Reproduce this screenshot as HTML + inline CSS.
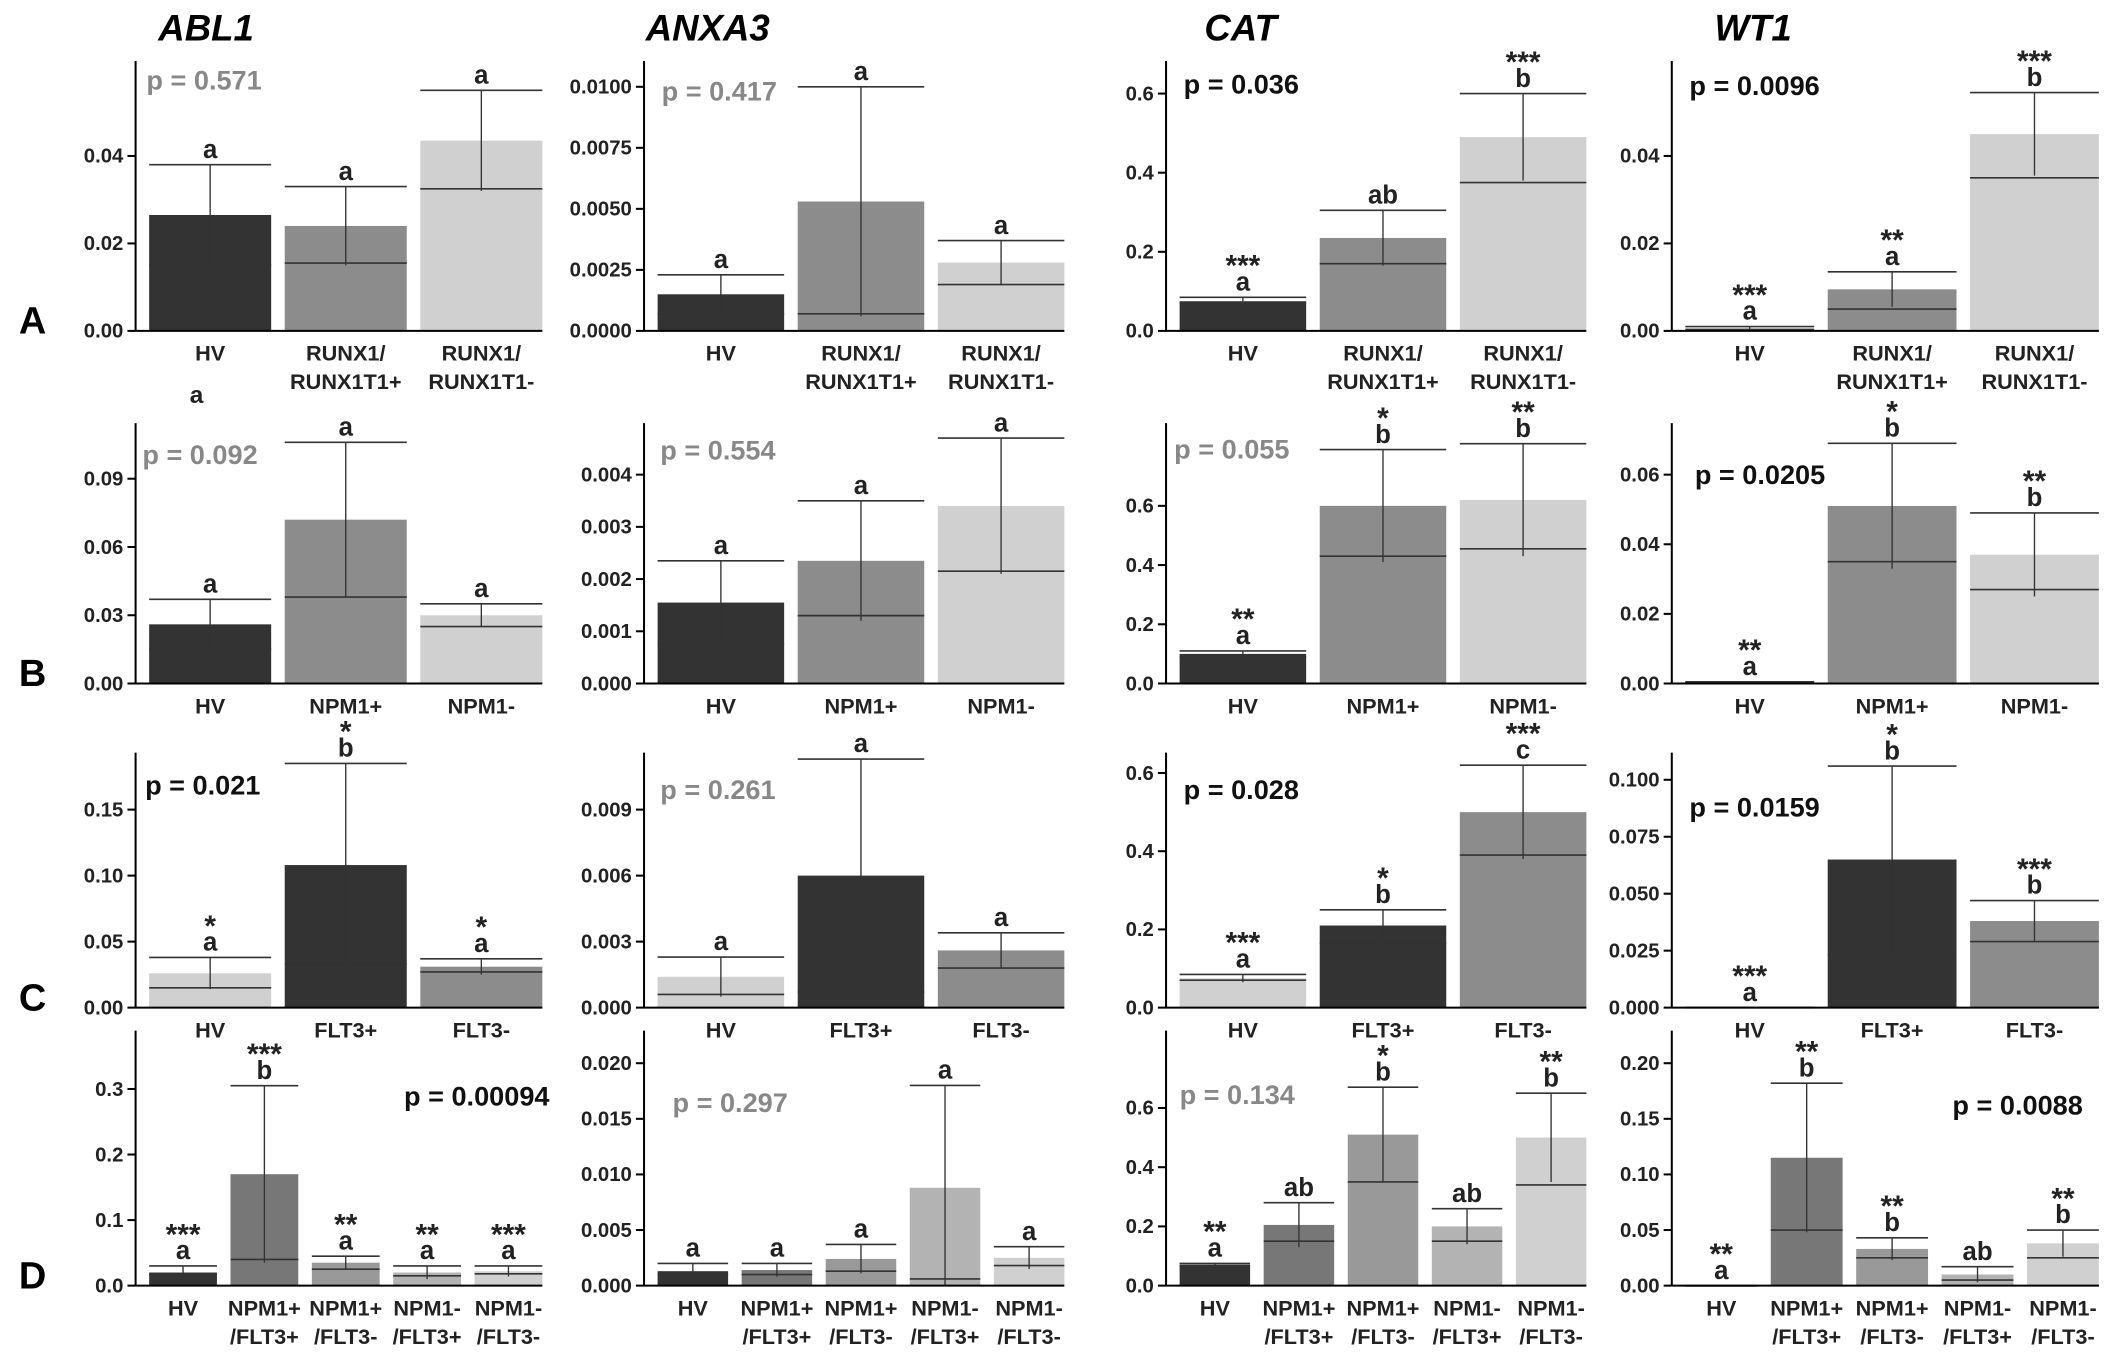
<!DOCTYPE html>
<html><head><meta charset="utf-8"><style>
html,body{margin:0;padding:0;background:#fff;}
svg{display:block;}
text{font-family:"Liberation Sans",sans-serif;}
</style></head><body>
<svg id="fig" width="2126" height="1367" viewBox="0 0 1568 1008" preserveAspectRatio="none" xmlns="http://www.w3.org/2000/svg">
<rect width="1568" height="1008" fill="#fff"/>
<g font-weight="bold" font-style="italic" font-size="27" text-anchor="middle">
<text x="152" y="30">ABL1</text>
<text x="522" y="30">ANXA3</text>
<text x="915" y="30">CAT</text>
<text x="1293" y="30">WT1</text>
</g>
<g font-weight="bold" font-size="28" text-anchor="middle">
<text x="24" y="246">A</text>
<text x="24" y="506">B</text>
<text x="24" y="745">C</text>
<text x="24" y="950">D</text>
</g>
<text x="145" y="297" font-size="18" font-weight="bold" text-anchor="middle" fill="#222">a</text>
</svg>
<script>
// ---- categories ----
const catsA = ["HV|", "RUNX1/|RUNX1T1+", "RUNX1/|RUNX1T1-"];
const catsB = ["HV|", "NPM1+|", "NPM1-|"];
const catsC = ["HV|", "FLT3+|", "FLT3-|"];
const catsD = ["HV|", "NPM1+|/FLT3+", "NPM1+|/FLT3-", "NPM1-|/FLT3+", "NPM1-|/FLT3-"];
// ---- row A ----
const A1_mean=[0.0265,0.024,0.0435], A1_err=[0.038,0.033,0.055], A1_med=[0.015,0.0155,0.0325];
const A1_let=["a","a","a"], A1_star=["","",""];
const A2_mean=[0.0015,0.0053,0.0028], A2_err=[0.0023,0.0100,0.0037], A2_med=[0.0007,0.0007,0.0019];
const A2_let=["a","a","a"], A2_star=["","",""];
const A3_mean=[0.075,0.235,0.49], A3_err=[0.085,0.305,0.60], A3_med=[0.07,0.17,0.375];
const A3_let=["a","ab","b"], A3_star=["***","","***"];
const A4_mean=[0.0005,0.0095,0.045], A4_err=[0.001,0.0135,0.0545], A4_med=[0.0003,0.005,0.035];
const A4_let=["a","a","b"], A4_star=["***","**","***"];
// ---- row B ----
const B1_mean=[0.026,0.072,0.030], B1_err=[0.037,0.106,0.035], B1_med=[0.015,0.038,0.025];
const B1_let=["a","a","a"], B1_star=["","",""];
const B2_mean=[0.00155,0.00235,0.0034], B2_err=[0.00235,0.0035,0.0047], B2_med=[0.00075,0.0013,0.00215];
const B2_let=["a","a","a"], B2_star=["","",""];
const B3_mean=[0.10,0.60,0.62], B3_err=[0.11,0.79,0.81], B3_med=[0.09,0.43,0.455];
const B3_let=["a","b","b"], B3_star=["**","*","**"];
const B4_mean=[0.0005,0.051,0.037], B4_err=[0.0005,0.069,0.049], B4_med=[0.0003,0.035,0.027];
const B4_let=["a","b","b"], B4_star=["**","*","**"];
// ---- row C ----
const C1_mean=[0.026,0.108,0.031], C1_err=[0.038,0.185,0.037], C1_med=[0.015,0.033,0.027];
const C1_let=["a","b","a"], C1_star=["*","*","*"];
const C2_mean=[0.0014,0.006,0.0026], C2_err=[0.0023,0.0113,0.0034], C2_med=[0.0006,0.0007,0.0018];
const C2_let=["a","a","a"], C2_star=["","",""];
const C3_mean=[0.075,0.21,0.50], C3_err=[0.085,0.25,0.62], C3_med=[0.07,0.165,0.39];
const C3_let=["a","b","c"], C3_star=["***","*","***"];
const C4_mean=[0.0,0.065,0.038], C4_err=[0.0,0.106,0.047], C4_med=[0.0,0.023,0.029];
const C4_let=["a","b","b"], C4_star=["***","*","***"];
// ---- row D ----
const D1_mean=[0.02,0.17,0.035,0.02,0.022], D1_err=[0.03,0.305,0.045,0.03,0.03], D1_med=[0.017,0.04,0.025,0.015,0.018];
const D1_let=["a","b","a","a","a"], D1_star=["***","***","**","**","***"];
const D2_mean=[0.0013,0.0014,0.0024,0.0088,0.0025], D2_err=[0.002,0.002,0.0037,0.018,0.0035], D2_med=[0.001,0.001,0.0013,0.0006,0.0018];
const D2_let=["a","a","a","a","a"], D2_star=["","","","",""];
const D3_mean=[0.07,0.205,0.51,0.20,0.50], D3_err=[0.075,0.28,0.67,0.26,0.65], D3_med=[0.068,0.15,0.35,0.15,0.34];
const D3_let=["a","ab","b","ab","b"], D3_star=["**","","*","","**"];
const D4_mean=[0.0,0.115,0.033,0.010,0.038], D4_err=[0.0,0.182,0.043,0.017,0.050], D4_med=[0.0,0.05,0.025,0.005,0.025];
const D4_let=["a","b","b","ab","b"], D4_star=["**","**","**","","**"];
// ---- tick labels ----
const tA1=["0.00","0.02","0.04"], tA2=["0.0000","0.0025","0.0050","0.0075","0.0100"], tA3=["0.0","0.2","0.4","0.6"], tA4=["0.00","0.02","0.04"];
const tB1=["0.00","0.03","0.06","0.09"], tB2=["0.000","0.001","0.002","0.003","0.004"], tB3=["0.0","0.2","0.4","0.6"], tB4=["0.00","0.02","0.04","0.06"];
const tC1=["0.00","0.05","0.10","0.15"], tC2=["0.000","0.003","0.006","0.009"], tC3=["0.0","0.2","0.4","0.6"], tC4=["0.000","0.025","0.050","0.075","0.100"];
const tD1=["0.0","0.1","0.2","0.3"], tD2=["0.000","0.005","0.010","0.015","0.020"], tD3=["0.0","0.2","0.4","0.6"], tD4=["0.00","0.05","0.10","0.15","0.20"];
// ---- p values ----
const pVals=["p = 0.571","p = 0.417","p = 0.036","p = 0.0096","p = 0.092","p = 0.554","p = 0.055","p = 0.0205","p = 0.021","p = 0.261","p = 0.028","p = 0.0159","p = 0.00094","p = 0.297","p = 0.134","p = 0.0088"];

const DK="#333333", MD="#8c8c8c", LT="#d0d0d0";
const colsX=[[100,400],[475,785],[860,1170],[1233,1548]];
const rowsY=[[45,244],[312,504],[555,743],[760,948]];
const panels=[
 {r:0,c:0,m:A1_mean,e:A1_err,d:A1_med,l:A1_let,s:A1_star,t:tA1,yTopVal:0.04,yTopPx:115,cats:catsA,col:[DK,MD,LT],p:0,pc:"#888",px:108,py:66},
 {r:0,c:1,m:A2_mean,e:A2_err,d:A2_med,l:A2_let,s:A2_star,t:tA2,yTopVal:0.01,yTopPx:64,cats:catsA,col:[DK,MD,LT],p:1,pc:"#888",px:488,py:74},
 {r:0,c:2,m:A3_mean,e:A3_err,d:A3_med,l:A3_let,s:A3_star,t:tA3,yTopVal:0.6,yTopPx:69,cats:catsA,col:[DK,MD,LT],p:2,pc:"#111",px:873,py:69},
 {r:0,c:3,m:A4_mean,e:A4_err,d:A4_med,l:A4_let,s:A4_star,t:tA4,yTopVal:0.04,yTopPx:115,cats:catsA,col:[DK,MD,LT],p:3,pc:"#111",px:1246,py:70},
 {r:1,c:0,m:B1_mean,e:B1_err,d:B1_med,l:B1_let,s:B1_star,t:tB1,yTopVal:0.09,yTopPx:353,cats:catsB,col:[DK,MD,LT],p:4,pc:"#888",px:105,py:342},
 {r:1,c:1,m:B2_mean,e:B2_err,d:B2_med,l:B2_let,s:B2_star,t:tB2,yTopVal:0.004,yTopPx:350,cats:catsB,col:[DK,MD,LT],p:5,pc:"#888",px:487,py:339},
 {r:1,c:2,m:B3_mean,e:B3_err,d:B3_med,l:B3_let,s:B3_star,t:tB3,yTopVal:0.6,yTopPx:373,cats:catsB,col:[DK,MD,LT],p:6,pc:"#888",px:866,py:338},
 {r:1,c:3,m:B4_mean,e:B4_err,d:B4_med,l:B4_let,s:B4_star,t:tB4,yTopVal:0.06,yTopPx:350,cats:catsB,col:[DK,MD,LT],p:7,pc:"#111",px:1250,py:357},
 {r:2,c:0,m:C1_mean,e:C1_err,d:C1_med,l:C1_let,s:C1_star,t:tC1,yTopVal:0.15,yTopPx:597,cats:catsC,col:[LT,DK,MD],p:8,pc:"#111",px:107,py:586},
 {r:2,c:1,m:C2_mean,e:C2_err,d:C2_med,l:C2_let,s:C2_star,t:tC2,yTopVal:0.009,yTopPx:597,cats:catsC,col:[LT,DK,MD],p:9,pc:"#888",px:487,py:589},
 {r:2,c:2,m:C3_mean,e:C3_err,d:C3_med,l:C3_let,s:C3_star,t:tC3,yTopVal:0.6,yTopPx:570,cats:catsC,col:[LT,DK,MD],p:10,pc:"#111",px:873,py:589},
 {r:2,c:3,m:C4_mean,e:C4_err,d:C4_med,l:C4_let,s:C4_star,t:tC4,yTopVal:0.1,yTopPx:575,cats:catsC,col:[LT,DK,MD],p:11,pc:"#111",px:1246,py:602},
 {r:3,c:0,m:D1_mean,e:D1_err,d:D1_med,l:D1_let,s:D1_star,t:tD1,yTopVal:0.3,yTopPx:803,cats:catsD,col:[DK,"#777","#999","#b3b3b3",LT],p:12,pc:"#111",px:298,py:815},
 {r:3,c:1,m:D2_mean,e:D2_err,d:D2_med,l:D2_let,s:D2_star,t:tD2,yTopVal:0.02,yTopPx:784,cats:catsD,col:[DK,"#777","#999","#b3b3b3",LT],p:13,pc:"#888",px:496,py:820},
 {r:3,c:2,m:D3_mean,e:D3_err,d:D3_med,l:D3_let,s:D3_star,t:tD3,yTopVal:0.6,yTopPx:817,cats:catsD,col:[DK,"#777","#999","#b3b3b3",LT],p:14,pc:"#888",px:870,py:814},
 {r:3,c:3,m:D4_mean,e:D4_err,d:D4_med,l:D4_let,s:D4_star,t:tD4,yTopVal:0.2,yTopPx:784,cats:catsD,col:[DK,"#777","#999","#b3b3b3",LT],p:15,pc:"#111",px:1440,py:822}
];
const NS="http://www.w3.org/2000/svg";
const svg=document.getElementById('fig');
function mk(tag,attrs,parent){const el=document.createElementNS(NS,tag);for(const k in attrs)el.setAttribute(k,attrs[k]);(parent||svg).appendChild(el);return el;}
const names=["abl1","anxa3","cat","wt1"], rows=["a","b","c","d"];
panels.forEach(P=>{
  const [ax,rx]=colsX[P.c], [top,base]=rowsY[P.r];
  const y=v=>base-(v/P.yTopVal)*(base-P.yTopPx);
  const g=mk('g',{});
  
  
  const n=P.m.length, gap=10, w=(rx-ax-10-(n-1)*gap)/n;
  const step=P.yTopVal/(P.t.length-1);
  P.t.forEach((lab,i)=>{
    const yy=y(step*i);
    const tk=mk('line',{x1:ax-6,x2:ax,y1:yy,y2:yy,stroke:"#000","stroke-width":1.5},g);
    
    
    const tx=mk('text',{x:ax-9,y:yy+5,"font-size":15,"font-weight":"bold","text-anchor":"end",fill:"#222"},g);
    
    
    tx.textContent=lab;
  });
  for(let i=0;i<n;i++){
    const bx=ax+10+i*(w+gap), cx=bx+w/2;
    const bar=mk('rect',{x:bx,y:y(P.m[i]),width:w,height:Math.max(0.8,base-y(P.m[i])),fill:P.col[i]},g);
    
    
    const lo=Math.max(0,2*P.m[i]-P.e[i]);
    const eb=mk('line',{x1:cx,x2:cx,y1:y(P.e[i]),y2:y(lo),stroke:"#333","stroke-width":1},g);
    
    
    const cap=mk('line',{x1:bx,x2:bx+w,y1:y(P.e[i]),y2:y(P.e[i]),stroke:"#333","stroke-width":1.2},g);
    
    
    const md=mk('line',{x1:bx,x2:bx+w,y1:y(P.d[i]),y2:y(P.d[i]),stroke:"#333","stroke-width":1.2},g);
    
    
    const ly=y(P.e[i])-5;
    const lt=mk('text',{x:cx,y:ly,"font-size":19,"font-weight":"bold","text-anchor":"middle",fill:"#222"},g);
    
    
    lt.textContent=P.l[i];
    if(P.s[i]){
      const st=mk('text',{x:cx,y:ly-11,"font-size":22,"font-weight":"bold","text-anchor":"middle",fill:"#222"},g);
      
      
      st.textContent=P.s[i];
    }
    const parts=P.cats[i].split('|');
    const c1=mk('text',{x:cx,y:base+22,"font-size":16,"font-weight":"bold","text-anchor":"middle",fill:"#222"},g);
    
    
    c1.textContent=parts[0];
    if(parts[1]){
      const c2=mk('text',{x:cx,y:base+43,"font-size":16,"font-weight":"bold","text-anchor":"middle",fill:"#222"},g);
      
      
      c2.textContent=parts[1];
    }
  }
  const ya=mk('line',{x1:ax,x2:ax,y1:top,y2:base,stroke:"#000","stroke-width":1.5},g);
  
  
  const xa=mk('line',{x1:ax,x2:rx,y1:base,y2:base,stroke:"#000","stroke-width":1.5},g);
  
  
  const pt=mk('text',{x:P.px,y:P.py,"font-size":20,"font-weight":"bold",fill:P.pc},g);
  
  
  pt.textContent=pVals[P.p];
});
</script>
</body></html>
